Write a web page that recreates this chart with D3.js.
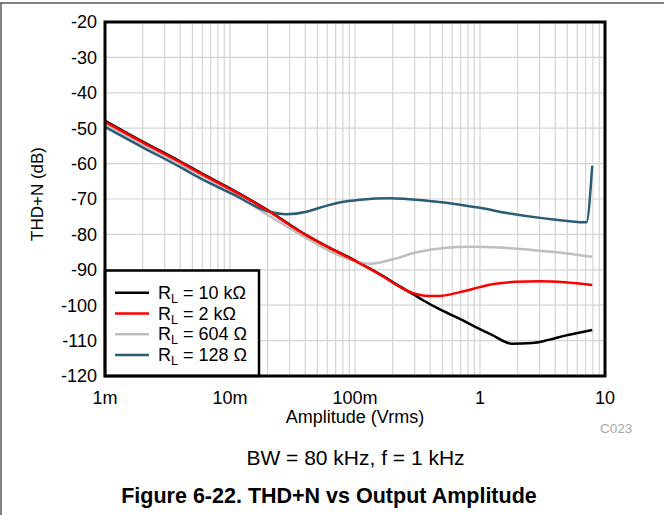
<!DOCTYPE html>
<html><head><meta charset="utf-8">
<script src="https://cdn.jsdelivr.net/npm/d3@7"></script>
<style>body{margin:0;background:#fff;} svg{display:block;font-family:"Liberation Sans",Arial,sans-serif;}</style>
</head><body>
<svg id="c" width="664" height="515"></svg>
<script>
const xTicks = [0.001, 0.01, 0.1, 1, 10];
const xTickLabels = ["1m", "10m", "100m", "1", "10"];
const yTicks = [-20, -30, -40, -50, -60, -70, -80, -90, -100, -110, -120];

const seriesNames = ["10 k\u03A9", "2 k\u03A9", "604 \u03A9", "128 \u03A9"];
const seriesColors = ["#000000", "#ff0000", "#bebebe", "#2b5c76"];

const rl10k = [[0.001,-47.9],[0.002,-53.8],[0.004,-59.4],[0.00575,-62.5],[0.01,-67.0],[0.0197,-73.0],[0.0363,-79.1],[0.067,-84.3],[0.103,-87.6],[0.168,-91.8],[0.228,-94.7],[0.292,-96.9],[0.35,-98.6],[0.478,-101.2],[0.676,-103.7],[0.917,-106.1],[1.248,-108.4],[1.8,-110.9],[2.61,-110.7],[3.54,-109.8],[4.81,-108.6],[7.9,-107.0]];
const rl2k = [[0.001,-48.2],[0.002,-54.0],[0.004,-59.6],[0.00575,-62.7],[0.01,-67.2],[0.0197,-73.1],[0.0363,-79.2],[0.067,-84.4],[0.103,-87.7],[0.168,-91.9],[0.228,-94.8],[0.292,-96.6],[0.36,-97.3],[0.425,-97.4],[0.5,-97.3],[0.694,-96.3],[1.0,-94.9],[1.25,-94.1],[1.94,-93.4],[3.0,-93.2],[4.8,-93.5],[7.9,-94.3]];
const rl604 = [[0.001,-48.8],[0.002,-54.6],[0.004,-60.2],[0.01,-67.8],[0.0197,-74.3],[0.0363,-80.0],[0.067,-85.2],[0.103,-87.7],[0.132,-88.3],[0.202,-87.0],[0.3,-85.2],[0.496,-83.9],[0.86,-83.5],[1.42,-83.7],[2.6,-84.4],[4.8,-85.3],[7.9,-86.3]];
const rl128 = [[0.001,-49.6],[0.002,-55.4],[0.004,-61.0],[0.00575,-64.1],[0.0106,-68.7],[0.0197,-73.4],[0.0284,-74.3],[0.041,-73.6],[0.053,-72.4],[0.075,-71.0],[0.11,-70.2],[0.19,-69.8],[0.376,-70.5],[0.694,-71.6],[1.0,-72.5],[1.68,-74.0],[3.16,-75.4],[7.1,-76.6],[7.9,-60.6]];

const allSeries = [rl10k, rl2k, rl604, rl128];

const svg = d3.select("#c");
const L = 105, R = 605, T = 22, B = 376;
const x = d3.scaleLog().domain([0.001, 10]).range([L, R]);
const y = d3.scaleLinear().domain([-120, -20]).range([B, T]);

// outer frame lines
svg.append("line").attr("x1",0).attr("x2",664).attr("y1",3).attr("y2",3).attr("stroke","#5a5a5a").attr("stroke-width",1.5);
svg.append("line").attr("x1",1).attr("x2",1).attr("y1",3).attr("y2",515).attr("stroke","#5a5a5a").attr("stroke-width",1.5);

// grid
const g = svg.append("g");
const minor = [];
for (let d = 0.001; d < 10; d *= 10) for (let k = 1; k <= 9; k++) minor.push(d * k);
g.selectAll(".vx").data(minor).join("line")
  .attr("x1", d => x(d)).attr("x2", d => x(d)).attr("y1", T).attr("y2", B)
  .attr("stroke", "#d4d4d4").attr("stroke-width", 1.2);
g.selectAll(".hy").data(yTicks).join("line")
  .attr("x1", L).attr("x2", R).attr("y1", d => y(d)).attr("y2", d => y(d))
  .attr("stroke", "#d4d4d4").attr("stroke-width", 1.2);

// lines
const line = d3.line().x(d => x(d[0])).y(d => y(d[1])).curve(d3.curveMonotoneX);
const order = [0, 2, 3, 1];
order.forEach(i => {
  svg.append("path").attr("d", line(allSeries[i])).attr("fill", "none")
    .attr("stroke", seriesColors[i]).attr("stroke-width", 2.5).attr("stroke-linejoin","round");
});

// y tick labels
svg.selectAll(".yl").data(yTicks).join("text")
  .attr("x", 97).attr("y", d => y(d)).attr("dy", "0.36em").attr("text-anchor", "end")
  .attr("font-size", 18).attr("fill", "#000").text(d => d);
// x tick labels
svg.selectAll(".xl").data(xTicks).join("text")
  .attr("x", d => x(d)).attr("y", 404).attr("text-anchor", "middle")
  .attr("font-size", 18).attr("fill", "#000").text((d, i) => xTickLabels[i]);

svg.append("text").attr("x", 355).attr("y", 423).attr("text-anchor", "middle").attr("font-size", 18).text("Amplitude (Vrms)");
svg.append("text").attr("transform", "translate(43,194) rotate(-90)").attr("text-anchor", "middle").attr("font-size", 17).text("THD+N (dB)");
svg.append("text").attr("x", 600).attr("y", 433).attr("font-size", 13.5).attr("fill", "#a8a8a8").text("C023");
svg.append("text").attr("x", 355.5).attr("y", 465).attr("text-anchor", "middle").attr("font-size", 21).text("BW = 80 kHz, f = 1 kHz");
svg.append("text").attr("x", 329).attr("y", 503).attr("text-anchor", "middle").attr("font-size", 21.5).attr("font-weight", "bold").text("Figure 6-22. THD+N vs Output Amplitude");

// legend
const lg = svg.append("g");
lg.append("rect").attr("x", L).attr("y", 270.5).attr("width", 154).attr("height", B - 270.5)
  .attr("fill", "#fff").attr("stroke", "#000").attr("stroke-width", 2.5);
seriesNames.forEach((n, i) => {
  const yy = 292.7 + i * 20.8;
  lg.append("line").attr("x1", 115).attr("x2", 149).attr("y1", yy).attr("y2", yy)
    .attr("stroke", seriesColors[i]).attr("stroke-width", 2.5);
  const t = lg.append("text").attr("x", 158).attr("y", yy + 6).attr("font-size", 18);
  t.append("tspan").text("R");
  t.append("tspan").attr("font-size", 12.5).attr("dy", 4).text("L");
  t.append("tspan").attr("dy", -4).text(" = " + n);
});
// plot border on top
svg.append("rect").attr("x", L).attr("y", T).attr("width", R - L).attr("height", B - T)
  .attr("fill", "none").attr("stroke", "#000").attr("stroke-width", 3);
</script>
</body></html>
